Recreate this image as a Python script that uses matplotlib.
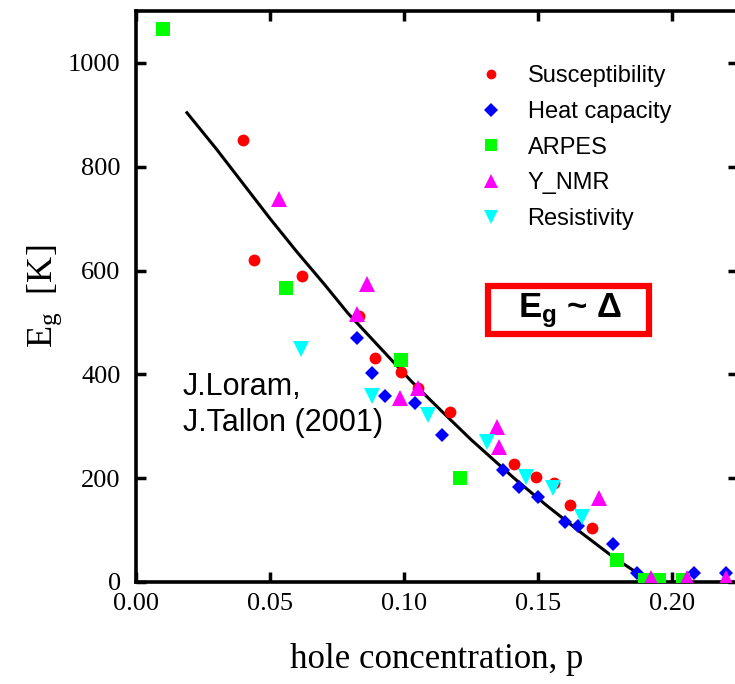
import matplotlib
matplotlib.use("Agg")
import matplotlib.pyplot as plt
from matplotlib.patches import Rectangle
from matplotlib.lines import Line2D

# Pseudogap energy vs hole concentration (Loram & Tallon, 2001)
susc_p = [0.040, 0.044, 0.062, 0.083, 0.089, 0.099, 0.105, 0.117, 0.141, 0.149, 0.156, 0.162, 0.170]
susc_e = [852, 621, 590, 512, 431, 404, 373, 327, 227, 202, 190, 148, 104]

heat_p = [0.0825, 0.088, 0.093, 0.104, 0.114, 0.137, 0.143, 0.150, 0.160, 0.165, 0.178, 0.187, 0.208, 0.220]
heat_e = [471, 402, 358, 344, 283, 215, 183, 163, 115, 108, 73, 17, 17, 17]

arpes_p = [0.010, 0.056, 0.099, 0.121, 0.1795, 0.190, 0.195, 0.204]
arpes_e = [1065, 567, 427, 200, 42, 3, 3, 3]

nmr_p = [0.0534, 0.0825, 0.0862, 0.0985, 0.105, 0.1347, 0.1354, 0.1728, 0.192, 0.2056, 0.220]
nmr_e = [737, 517, 575, 355, 373, 298, 260, 162, 8, 8, 8]

res_p = [0.0616, 0.088, 0.109, 0.131, 0.1455, 0.1556, 0.1664]
res_e = [448, 358, 321, 269, 202, 181, 125]

# guide-to-the-eye curve
fit_p = [0.019, 0.030, 0.040, 0.050, 0.060, 0.070, 0.079, 0.090, 0.103, 0.115,
         0.125, 0.133, 0.141, 0.153, 0.165, 0.178, 0.192]
fit_e = [904, 834, 767, 700, 636, 575, 518, 457, 385, 324,
         274, 237, 200, 148, 99, 48, 0]

x_ticks = [0.00, 0.05, 0.10, 0.15, 0.20]
x_tick_labels = ["0.00", "0.05", "0.10", "0.15", "0.20"]
y_ticks = [0, 200, 400, 600, 800, 1000]
y_tick_labels = ["0", "200", "400", "600", "800", "1000"]

W, H = 735, 684
fig = plt.figure(figsize=(W / 100, H / 100), dpi=100)
ax = fig.add_axes([136 / W, 1 - 582 / H, (738 - 136) / W, (582 - 11) / H])

serif = "Liberation Serif"
sans = "Liberation Sans"

ax.plot(fit_p, fit_e, color="black", lw=2.2, zorder=2)

kw = dict(linestyle="none", markeredgewidth=0, zorder=3)
ax.plot(susc_p, susc_e, marker="o", ms=8.5, color="#ff0000", **kw)
ax.plot(heat_p, heat_e, marker="D", ms=7, color="#0000ff", **kw)
ax.plot(arpes_p, arpes_e, marker="s", ms=10, color="#00ff00", **kw)
ax.plot(nmr_p, nmr_e, marker="^", ms=11, color="#ff00ff", **kw)
ax.plot(res_p, res_e, marker="v", ms=11, color="#00ffff", **kw)

ax.set_xlim(0, 0.2245)
ax.set_ylim(0, 1100)
ax.set_xticks(x_ticks)
ax.set_xticklabels(x_tick_labels, fontfamily=serif, fontsize=19)
ax.set_yticks(y_ticks)
ax.set_yticklabels(y_tick_labels, fontfamily=serif, fontsize=19)
ax.tick_params(direction="in", length=7, width=2.5, top=True, right=True)
ax.tick_params(axis="x", pad=8)
ax.tick_params(axis="y", pad=11)
for s in ax.spines.values():
    s.set_linewidth(2.6)

ax.set_xlabel("hole concentration, p", fontfamily=serif, fontsize=25, labelpad=20)
ax.set_ylabel(r"$\mathregular{E_g}$  [K]", fontfamily=serif, fontsize=26, labelpad=3)

handles = [
    Line2D([], [], marker="o", ms=7, color="#ff0000", **kw),
    Line2D([], [], marker="D", ms=7, color="#0000ff", **kw),
    Line2D([], [], marker="s", ms=9, color="#00ff00", **kw),
    Line2D([], [], marker="^", ms=10, color="#ff00ff", **kw),
    Line2D([], [], marker="v", ms=10, color="#00ffff", **kw),
]
labels = ["Susceptibility", "Heat capacity", "ARPES", "Y_NMR", "Resistivity"]
ax.legend(handles, labels, loc="upper left", bbox_to_anchor=(0.57, 0.905),
          frameon=False, prop={"family": sans, "size": 17},
          handlelength=1.0, handletextpad=1.05, labelspacing=0.58,
          borderaxespad=0, borderpad=0)

ax.text(0.078, 0.31, "J.Loram,\nJ.Tallon (2001)", transform=ax.transAxes,
        ha="left", va="center", fontfamily=sans, fontsize=22, linespacing=1.25)

ax.add_patch(Rectangle((0.585, 0.434), 0.267, 0.084, transform=ax.transAxes,
                       fill=False, edgecolor="#ff0000", lw=4.5, zorder=4))
ax.text(0.722, 0.476, r"$\mathregular{E_g}$ ~ Δ", transform=ax.transAxes,
        ha="center", va="center", fontfamily=sans, fontweight="bold", fontsize=25, zorder=5)

fig.savefig("out.png", dpi=100)
